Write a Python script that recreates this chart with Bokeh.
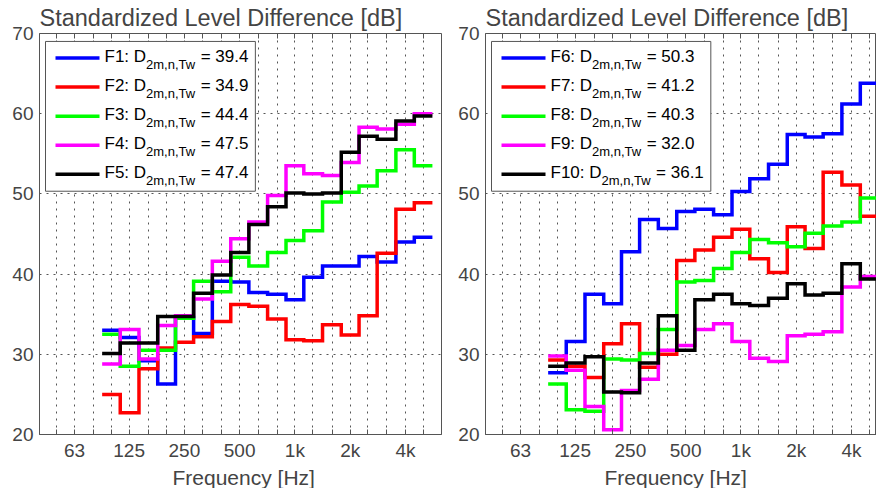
from bokeh.plotting import figure
from bokeh.models import FixedTicker, LogAxis, Range1d, Title
from bokeh.layouts import row
from bokeh.core.properties import value
from bokeh.embed import file_html
from bokeh.resources import INLINE

# ---------------- data ----------------
bands = [100, 125, 160, 200, 250, 315, 400, 500, 630, 800,
         1000, 1250, 1600, 2000, 2500, 3150, 4000, 5000]

F1 = [33.0, 32.1, 29.2, 26.3, 34.6, 32.6, 39.1, 39.0, 37.7, 37.5, 36.8, 39.6, 41.0, 41.0, 42.2, 41.5, 44.0, 44.6]
F2 = [25.0, 22.7, 28.2, 30.8, 31.5, 32.2, 34.1, 36.2, 36.0, 34.4, 31.8, 31.7, 33.7, 32.4, 34.8, 42.6, 48.1, 48.9]
F3 = [32.5, 28.5, 30.5, 30.5, 34.5, 39.1, 37.8, 42.1, 41.0, 42.7, 44.2, 45.4, 49.0, 50.2, 51.0, 52.9, 55.5, 53.5]
F4 = [28.8, 33.1, 29.4, 33.6, 34.8, 36.9, 41.6, 44.4, 46.5, 49.8, 53.5, 52.5, 52.3, 53.9, 58.3, 58.1, 58.7, 60.0]
F5 = [30.1, 31.4, 31.4, 34.7, 34.7, 37.6, 39.9, 42.7, 46.2, 48.4, 50.1, 50.0, 50.1, 55.2, 57.2, 56.8, 59.1, 59.7]

F6 = [27.7, 31.6, 37.5, 36.3, 42.8, 46.8, 45.7, 47.8, 48.1, 47.4, 50.3, 51.9, 53.7, 57.4, 57.1, 57.5, 61.2, 63.8]
F7 = [29.3, 28.5, 27.1, 31.3, 33.8, 28.4, 30.0, 41.7, 43.0, 44.6, 45.6, 41.9, 40.2, 45.9, 43.2, 52.7, 51.1, 47.2]
F8 = [26.3, 23.1, 22.9, 29.4, 29.3, 30.1, 33.1, 39.0, 39.2, 40.7, 42.7, 44.3, 43.9, 43.4, 45.1, 46.0, 46.5, 49.5]
F9 = [29.8, 28.0, 23.5, 20.6, 25.5, 26.9, 30.5, 31.1, 33.1, 33.8, 31.6, 29.5, 29.1, 32.3, 32.5, 32.8, 38.4, 39.7]
F10 = [28.5, 28.9, 29.7, 25.3, 25.2, 28.9, 34.8, 30.5, 36.8, 37.5, 36.3, 36.1, 37.0, 38.8, 37.4, 37.6, 41.3, 39.4]

names_left = ["F1", "F2", "F3", "F4", "F5"]
dvals_left = ["39.4", "34.9", "44.4", "47.5", "47.4"]
names_right = ["F6", "F7", "F8", "F9", "F10"]
dvals_right = ["50.3", "41.2", "40.3", "32.0", "36.1"]

colors = ["#0000ff", "#ff0000", "#00ff00", "#ff00ff", "#000000"]

third_octaves = [50, 63, 80, 100, 125, 160, 200, 250, 315, 400, 500, 630,
                 800, 1000, 1250, 1600, 2000, 2500, 3150, 4000, 5000, 6300]
tick_labels = {63: "63", 125: "125", 250: "250", 500: "500",
               1000: "1k", 2000: "2k", 4000: "4k"}
y_ticks = [20, 30, 40, 50, 60, 70]

FONT = "Liberation Sans"
X0 = 40.6
Y0, Y1 = 20, 70
H = 488
FRAME_H = 404
GRID = "#555555"

# band edges (geometric means between band centres)
edges = [bands[0] * 2 ** (-1 / 6)]
for a, b in zip(bands[:-1], bands[1:]):
    edges.append((a * b) ** 0.5)
edges.append(bands[-1] * 2 ** (1 / 6))

ARIAL = {'F': .611, 'D': .722, 'T': .611, ':': .278, ' ': .278, '=': .584,
         '.': .278, ',': .278, 'm': .833, 'n': .556, 'w': .722}


def tw(s, size):
    return sum(ARIAL.get(c, .556) for c in s) * size


def make_panel(width, mbl, mbr, frame_w, x_end, series, names, dvals,
               xlabel_offset):
    p = figure(width=width, height=H, x_axis_type="log",
               x_range=Range1d(X0, x_end), y_range=Range1d(Y0, Y1),
               output_backend="svg", toolbar_location=None,
               min_border_left=mbl, min_border_right=mbr,
               min_border_top=0, min_border_bottom=0,
               title="Standardized Level Difference [dB]")
    p.background_fill_color = "white"
    p.border_fill_color = "white"
    p.outline_line_color = "#555555"
    p.outline_line_width = 1

    p.title.text_font = FONT
    p.title.text_font_size = "23.5px"
    p.title.text_font_style = "normal"
    p.title.align = "left"
    p.title.standoff = 5
    p.title.offset = 0

    majors = sorted(tick_labels.keys())
    minors = [f for f in third_octaves if f not in tick_labels]
    ticker = FixedTicker(ticks=majors, minor_ticks=minors)

    xa = p.xaxis[0]
    xa.ticker = ticker
    xa.major_label_overrides = tick_labels
    xa.major_label_text_font = FONT
    xa.major_label_text_font_size = "19px"
    xa.major_label_text_line_height = 1.0
    xa.major_label_standoff = 5
    xa.major_tick_in = 5
    xa.major_tick_out = 0
    xa.minor_tick_in = 5
    xa.minor_tick_out = 0
    xa.axis_line_color = "#555555"
    xa.major_tick_line_color = "#555555"
    xa.minor_tick_line_color = "#555555"

    # x-axis label as a title panel below the axis
    xt = Title(text="Frequency [Hz]", align="left", text_font=FONT,
               text_font_size="21px", text_font_style="normal",
               standoff=0, offset=xlabel_offset)
    p.add_layout(xt, "below")

    top = LogAxis(ticker=FixedTicker(ticks=[], minor_ticks=third_octaves),
                  major_tick_in=5, major_tick_out=0, minor_tick_in=5,
                  minor_tick_out=0, axis_line_color=None,
                  major_tick_line_color="#555555",
                  minor_tick_line_color="#555555", major_label_standoff=0)
    p.add_layout(top, "above")

    ya = p.yaxis[0]
    ya.ticker = FixedTicker(ticks=y_ticks)
    ya.major_label_text_font = FONT
    ya.major_label_text_font_size = "19px"
    ya.major_label_standoff = 6
    ya.major_tick_in = 0
    ya.major_tick_out = 0
    ya.minor_tick_line_color = None
    ya.axis_line_color = "#555555"

    p.xgrid.ticker = ticker
    p.xgrid.grid_line_color = GRID
    p.xgrid.grid_line_dash = "2 5"
    p.xgrid.minor_grid_line_color = GRID
    p.xgrid.minor_grid_line_dash = "2 5"
    p.ygrid.grid_line_color = GRID
    p.ygrid.grid_line_dash = "2 5"

    for vals, c in zip(series, colors):
        p.step(x=edges, y=list(vals) + [vals[-1]], mode="after",
               line_color=c, line_width=3.5, line_join="miter")

    # ---- helpers: pixel offsets from frame top-left -> data coords ----
    def px2x(px):
        return X0 * (x_end / X0) ** (px / frame_w)

    def px2y(py):
        return Y1 - py / FRAME_H * (Y1 - Y0)

    # ---- legend ----
    main_fs, sub_fs = 17, 13
    text_x = 65
    row0, row_dy = 24.7, 29.3
    ends = []
    items = []
    for i, (nm, dv) in enumerate(zip(names, dvals)):
        a = nm + ": D"
        b = "2m,n,Tw"
        c = "= " + dv
        xa_ = text_x
        xb_ = xa_ + tw(a, main_fs)
        xc_ = xb_ + tw(b, sub_fs) + tw(" ", main_fs)
        ends.append(xc_ + tw(c, main_fs))
        items.append((a, b, c, xa_, xb_, xc_, row0 + i * row_dy))
    box_r = max(ends) + 7
    p.quad(left=[px2x(6)], right=[px2x(box_r)], top=[px2y(8)],
           bottom=[px2y(row0 + 4 * row_dy + 17)], fill_color="white",
           line_color="#555555", line_width=1)
    for i, (a, b, c, xa_, xb_, xc_, ly) in enumerate(items):
        p.line(x=[px2x(16), px2x(60)], y=[px2y(ly), px2y(ly)],
               line_color=colors[i], line_width=3.5)
        p.text(x=[px2x(xa_)], y=[px2y(ly - 1.7)], text=[a],
               text_font=value(FONT), text_font_size="%spx" % main_fs,
               text_baseline="alphabetic", text_align="left")
        p.text(x=[px2x(xb_)], y=[px2y(ly + 6.6)], text=[b],
               text_font=value(FONT), text_font_size="%spx" % sub_fs,
               text_baseline="alphabetic", text_align="left")
        p.text(x=[px2x(xc_)], y=[px2y(ly - 1.7)], text=[c],
               text_font=value(FONT), text_font_size="%spx" % main_fs,
               text_baseline="alphabetic", text_align="left")
    return p


LEFT_FW = 402
RIGHT_FW = 391
x_end_left = 6290
x_end_right = X0 * (x_end_left / X0) ** (RIGHT_FW / LEFT_FW)

p1 = make_panel(455, 39, 14, LEFT_FW, x_end_left,
                [F1, F2, F3, F4, F5], names_left, dvals_left, 133)
p2 = make_panel(421, 30, 0, RIGHT_FW, x_end_right,
                [F6, F7, F8, F9, F10], names_right, dvals_right, 119)

layout = row(p1, p2)
open("out.html", "w").write(file_html(layout, INLINE))
